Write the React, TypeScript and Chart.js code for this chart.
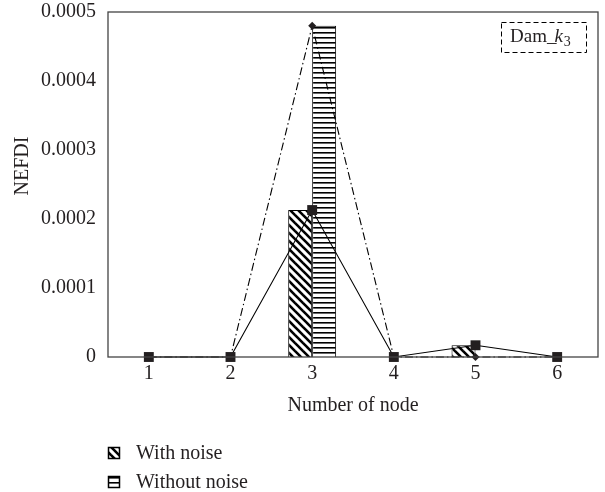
import React, { useEffect, useRef } from 'react';
import { Chart, registerables } from 'chart.js';

Chart.register(...registerables);

const nodes = ['1', '2', '3', '4', '5', '6'];
const withNoiseBars = [0, 0, 0.000213, 0, 0.000017, 0];
const withoutNoiseBars = [0, 0, 0.00048, 0, 0, 0];
const withNoiseLine = [0, 0, 0.000213, 0, 0.000017, 0];
const withoutNoiseLine = [0, 0, 0.00048, 0, 0, 0];
const yMin = 0;
const yMax = 0.0005;
const yStep = 0.0001;
const seriesNames = ['With noise', 'Without noise'];
const xTitle = 'Number of node';
const yTitle = 'NEFDI';
const boxLabel = { main: 'Dam', sep: '_', italic: 'k', sub: '3' };

const FONT = '"Liberation Serif", "Times New Roman", serif';
const INK = '#231f20';

function hatchPattern(): CanvasPattern {
  const c = document.createElement('canvas');
  c.width = 8;
  c.height = 8;
  const g = c.getContext('2d')!;
  g.fillStyle = '#fff';
  g.fillRect(0, 0, 8, 8);
  g.strokeStyle = '#000';
  g.lineWidth = 2.6;
  for (const x0 of [-8, 0, 8]) {
    g.beginPath();
    g.moveTo(x0 - 1, -1);
    g.lineTo(x0 + 9, 9);
    g.stroke();
  }
  return g.createPattern(c, 'repeat')!;
}

function stripePattern(): CanvasPattern {
  const c = document.createElement('canvas');
  c.width = 5;
  c.height = 5;
  const g = c.getContext('2d')!;
  g.fillStyle = '#fff';
  g.fillRect(0, 0, 5, 5);
  g.fillStyle = '#000';
  g.fillRect(0, 2, 5, 1);
  g.fillStyle = '#666';
  g.fillRect(0, 3, 5, 1);
  return g.createPattern(c, 'repeat')!;
}

export default function App() {
  const ref = useRef<HTMLCanvasElement | null>(null);

  useEffect(() => {
    const canvas = ref.current!;
    const hatch = hatchPattern();
    const stripes = stripePattern();

    const decor = {
      id: 'decor',
      afterDatasetsDraw(chart: any) {
        const { ctx, chartArea: a } = chart;
        ctx.save();
        ctx.strokeStyle = '#444';
        ctx.lineWidth = 1.3;
        ctx.strokeRect(a.left, a.top, a.right - a.left, a.bottom - a.top);
        ctx.restore();
      },
      afterDraw(chart: any) {
        const { ctx, chartArea: a } = chart;
        ctx.save();
        // y title
        ctx.fillStyle = INK;
        ctx.font = `20px ${FONT}`;
        ctx.textAlign = 'center';
        ctx.textBaseline = 'middle';
        ctx.translate(23, 166);
        ctx.rotate(-Math.PI / 2);
        ctx.fillText(yTitle, 0, 0);
        ctx.restore();

        // bottom legend
        ctx.save();
        const fills = [hatch, stripes];
        const iconY = [447, 476];
        for (let i = 0; i < seriesNames.length; i++) {
          ctx.fillStyle = fills[i];
          ctx.fillRect(108, iconY[i], 12, 12);
          ctx.strokeStyle = '#000';
          ctx.lineWidth = 1.5;
          ctx.strokeRect(108.5, iconY[i] + 0.5, 11, 11);
          ctx.fillStyle = INK;
          ctx.font = `20px ${FONT}`;
          ctx.textAlign = 'left';
          ctx.textBaseline = 'alphabetic';
          ctx.fillText(seriesNames[i], 136, iconY[i] + 12);
        }
        ctx.restore();

        // dashed label box in top right
        ctx.save();
        const bx = a.right - 97;
        const by = a.top + 10;
        ctx.strokeStyle = '#000';
        ctx.lineWidth = 1;
        ctx.setLineDash([5, 3]);
        ctx.strokeRect(bx + 0.5, by + 0.5, 85, 30);
        ctx.setLineDash([]);
        ctx.fillStyle = INK;
        ctx.textBaseline = 'alphabetic';
        ctx.textAlign = 'left';
        let x = bx + 9;
        const base = by + 20;
        ctx.font = `19px ${FONT}`;
        ctx.fillText(boxLabel.main, x, base);
        x += ctx.measureText(boxLabel.main).width;
        ctx.fillText(boxLabel.sep, x, base);
        x += ctx.measureText(boxLabel.sep).width - 2;
        ctx.font = `italic 19px ${FONT}`;
        ctx.fillText(boxLabel.italic, x, base);
        x += ctx.measureText(boxLabel.italic).width + 1;
        ctx.font = `14px ${FONT}`;
        ctx.fillText(boxLabel.sub, x, base + 4);
        ctx.restore();
      },
    };

    const chart = new Chart(canvas, {
      type: 'bar',
      data: {
        labels: nodes,
        datasets: [
          {
            type: 'line',
            label: seriesNames[0] + ' line',
            data: withNoiseLine,
            borderColor: '#000',
            borderWidth: 1.1,
            pointStyle: 'rect',
            pointRadius: 7,
            pointBackgroundColor: INK,
            pointBorderWidth: 0,
            fill: false,
            tension: 0,
            clip: false,
            order: 0,
          } as any,
          {
            type: 'line',
            label: seriesNames[1] + ' line',
            data: withoutNoiseLine,
            borderColor: '#000',
            borderWidth: 1.1,
            borderDash: [8, 3, 1.5, 3],
            pointStyle: 'rectRot',
            pointRadius: 4,
            pointBackgroundColor: INK,
            pointBorderWidth: 0,
            fill: false,
            tension: 0,
            clip: false,
            order: 1,
          } as any,
          {
            type: 'bar',
            label: seriesNames[0],
            data: withNoiseBars,
            backgroundColor: hatch,
            borderColor: '#000',
            borderWidth: 1,
            borderSkipped: 'start',
            barPercentage: 1,
            categoryPercentage: 0.587,
            order: 2,
          } as any,
          {
            type: 'bar',
            label: seriesNames[1],
            data: withoutNoiseBars,
            backgroundColor: stripes,
            borderColor: '#000',
            borderWidth: 1,
            borderSkipped: 'start',
            barPercentage: 1,
            categoryPercentage: 0.587,
            order: 2,
          } as any,
        ],
      },
      options: {
        responsive: false,
        animation: false,
        maintainAspectRatio: false,
        layout: { padding: { left: 0, top: 12, right: 6, bottom: 70 } },
        plugins: {
          legend: { display: false },
          tooltip: { enabled: false },
          title: { display: false },
        },
        scales: {
          x: {
            type: 'category',
            offset: true,
            grid: { display: false, drawTicks: false, tickLength: 0 },
            border: { display: false },
            ticks: {
              color: INK,
              font: { family: FONT, size: 20 },
              padding: 5,
              maxRotation: 0,
            },
            title: {
              display: true,
              text: xTitle,
              color: INK,
              font: { family: FONT, size: 20 },
              padding: { top: 0, bottom: 4 },
            },
            afterFit: (s: any) => {
              s.height = 65;
              s.paddingLeft = 0;
              s.paddingRight = 0;
            },
          },
          y: {
            min: yMin,
            max: yMax,
            grid: { display: false, drawTicks: false, tickLength: 0 },
            border: { display: false },
            ticks: {
              stepSize: yStep,
              color: INK,
              font: { family: FONT, size: 20 },
              padding: 12,
              callback: (v: any) => (Number(v) === 0 ? '0' : Number(v).toFixed(4)),
            },
            afterFit: (s: any) => {
              s.width = 108;
              s.paddingTop = 0;
              s.paddingBottom = 0;
            },
          },
        },
      },
      plugins: [decor],
    });

    return () => chart.destroy();
  }, []);

  return (
    <div style={{ position: 'fixed', left: 0, top: 0, width: 605, height: 492, background: '#fff' }}>
      <canvas ref={ref} width={605} height={492} style={{ display: 'block' }} />
    </div>
  );
}
